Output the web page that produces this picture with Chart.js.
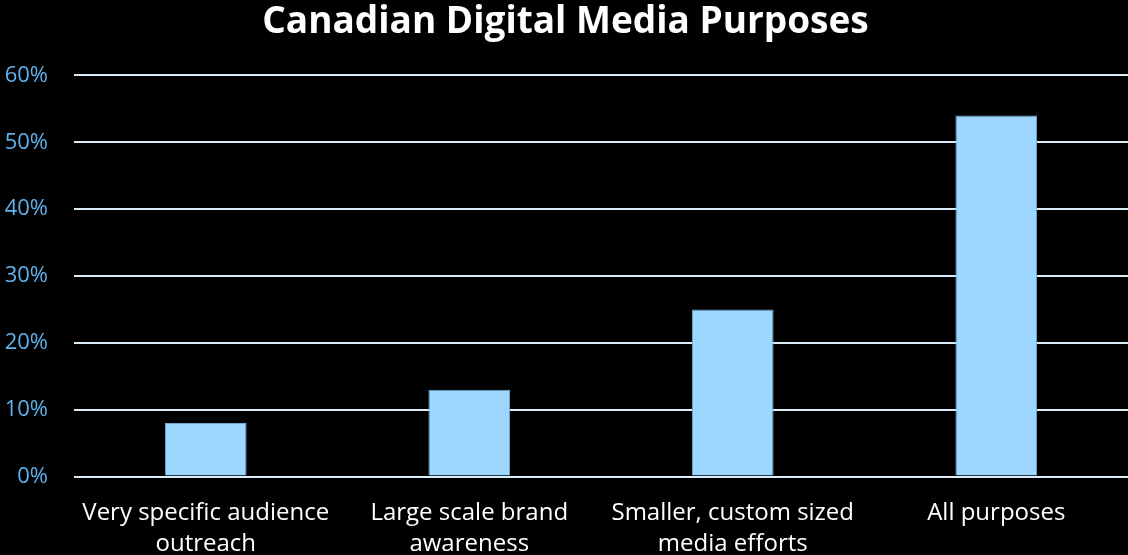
<!DOCTYPE html>
<html>
<head>
<meta charset="utf-8">
<script src="https://cdn.jsdelivr.net/npm/chart.js@4"></script>
<style>
  html, body { margin: 0; padding: 0; background: #000; overflow: hidden; }
  #wrap { width: 1128px; height: 555px; overflow: hidden; }
</style>
</head>
<body>
<div id="wrap"><canvas id="purposeChart" width="1128" height="573"></canvas></div>
<script>
const categories = [
  ["Very specific audience", "outreach"],
  ["Large scale brand", "awareness"],
  ["Smaller, custom sized", "media efforts"],
  ["All purposes"]
];
const shares = [0.08, 0.13, 0.25, 0.54];
const yTicks = [0, 0.1, 0.2, 0.3, 0.4, 0.5, 0.6];

const ctx = document.getElementById("purposeChart").getContext("2d");

const chart = new Chart(ctx, {
  type: "bar",
  data: {
    labels: categories,
    datasets: [{
      data: shares,
      backgroundColor: "#9dd6ff",
      borderColor: "#6fa9cf",
      borderWidth: { top: 1, left: 1, right: 1, bottom: 0 },
      barPercentage: 0.31,
      categoryPercentage: 1
    }]
  },
  options: {
    responsive: false,
    animation: false,
    layout: { padding: { left: 3, right: 0, top: 0, bottom: 0 } },
    plugins: {
      legend: { display: false },
      tooltip: { enabled: false },
      title: {
        display: true,
        text: "Canadian Digital Media Purposes",
        color: "#ffffff",
        font: { family: "Open Sans", size: 37, weight: "bold" },
        padding: { top: 0, bottom: 31 }
      }
    },
    scales: {
      x: {
        // long category labels may hang past the plot edges
        afterFit: scale => {
          scale.paddingLeft = 0;
          scale.paddingRight = 0;
        },
        grid: { display: false },
        border: { display: false },
        ticks: {
          color: "#ffffff",
          font: { family: "Open Sans", size: 24, lineHeight: 1.3 },
          padding: 13,
          maxRotation: 0,
          autoSkip: false
        }
      },
      y: {
        min: 0,
        max: 0.6,
        afterBuildTicks: axis => {
          axis.ticks = yTicks.map(v => ({ value: v }));
        },
        afterFit: scale => {
          scale.width = 71;
        },
        grid: { color: "#d8ecfa", lineWidth: 2, tickLength: 0 },
        border: { display: false },
        ticks: {
          color: "#5fb2ee",
          font: { family: "Open Sans", size: 22 },
          padding: 26,
          callback: v => Math.round(v * 100) + "%"
        }
      }
    }
  }
});
</script>
</body>
</html>
